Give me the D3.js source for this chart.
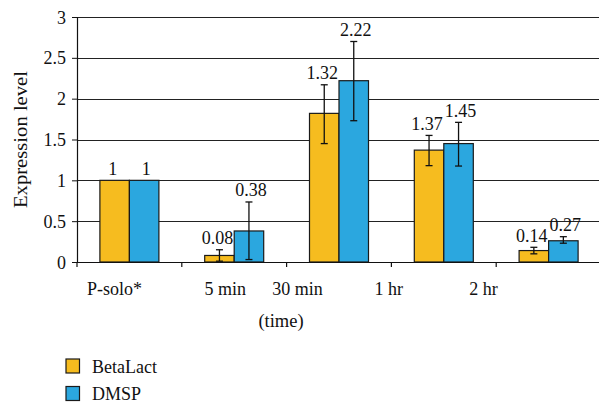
<!DOCTYPE html>
<html><head><meta charset="utf-8">
<script src="https://cdn.jsdelivr.net/npm/d3@7"></script>
<style>
html,body{margin:0;padding:0;background:#fff;}
svg text{font-family:"Liberation Serif","Times New Roman",serif;fill:#111;}
</style></head>
<body><svg id="c" width="599" height="404"></svg>
<script>
const categories = ["P-solo*", "5 min", "30 min", "1 hr", "2 hr"];
const seriesNames = ["BetaLact", "DMSP"];
const betaLact = [1, 0.08, 1.82, 1.37, 0.14];
const dmsp = [1, 0.38, 2.22, 1.45, 0.26];
const betaLactLabels = ["1", "0.08", "1.32", "1.37", "0.14"];
const dmspLabels = ["1", "0.38", "2.22", "1.45", "0.27"];
const betaLactErrLow = [null, 0.01, 1.45, 1.18, 0.10];
const betaLactErrHigh = [null, 0.15, 2.17, 1.55, 0.18];
const dmspErrLow = [null, 0.03, 1.73, 1.175, 0.23];
const dmspErrHigh = [null, 0.735, 2.70, 1.71, 0.31];
const yTicks = [0, 0.5, 1, 1.5, 2, 2.5, 3];

(function(){
const colors = ["#F6BC1F", "#2BA7DF"];
const svg = d3.select("#c");
const pL = 77, pR = 601, pT = 17, pB = 262;
const x = d3.scaleBand().domain(categories).range([pL, pR]).padding(0);
const y = d3.scaleLinear().domain([0, 3]).range([pB, pT]);
const groupW = 59;
const xs = d3.scaleBand().domain(seriesNames).range([-groupW/2, groupW/2]).padding(0);

const series = [
  {name: seriesNames[0], vals: betaLact, labels: betaLactLabels, lo: betaLactErrLow, hi: betaLactErrHigh, color: colors[0], ldx: -2},
  {name: seriesNames[1], vals: dmsp, labels: dmspLabels, lo: dmspErrLow, hi: dmspErrHigh, color: colors[1], ldx: 2}
];

// gridlines
svg.append("g").selectAll("line").data(yTicks.filter(d => d > 0)).join("line")
  .attr("x1", pL).attr("x2", 599).attr("y1", d => Math.round(y(d)) + 0.5).attr("y2", d => Math.round(y(d)) + 0.5)
  .attr("stroke", "#222").attr("stroke-width", 1);

// y axis
const yAxis = d3.axisLeft(y).tickValues(yTicks).tickSize(5).tickPadding(6).tickFormat(d3.format("~g"));
const ya = svg.append("g").attr("transform", `translate(${pL},0)`).call(yAxis);
ya.select(".domain").attr("stroke", "#111").attr("stroke-width", 1.2);
ya.selectAll(".tick line").attr("stroke", "#111");
ya.selectAll("text").attr("font-size", 18).attr("font-family", "Liberation Serif").attr("fill", "#111").attr("dy", "0.34em");

// bars
const cx = c => x(c) + x.bandwidth()/2;
series.forEach(s => {
  svg.append("g").selectAll("rect").data(categories).join("rect")
    .attr("x", (c) => cx(c) + xs(s.name))
    .attr("width", xs.bandwidth())
    .attr("y", (c, i) => y(s.vals[i]))
    .attr("height", (c, i) => y(0) - y(s.vals[i]))
    .attr("fill", s.color).attr("stroke", "#1a1a1a").attr("stroke-width", 1.2);
});

// error bars
series.forEach(s => {
  const g = svg.append("g");
  categories.forEach((c, i) => {
    if (s.lo[i] == null) return;
    const bx = cx(c) + xs(s.name) + xs.bandwidth()/2;
    g.append("line").attr("x1", bx).attr("x2", bx).attr("y1", y(s.hi[i])).attr("y2", y(s.lo[i])).attr("stroke", "#111").attr("stroke-width", 1.3);
    [s.hi[i], s.lo[i]].forEach(v => g.append("line").attr("x1", bx - 3.5).attr("x2", bx + 3.5).attr("y1", y(v)).attr("y2", y(v)).attr("stroke", "#111").attr("stroke-width", 1.3));
  });
});

// value labels
series.forEach(s => {
  svg.append("g").selectAll("text").data(categories).join("text")
    .attr("x", c => cx(c) + xs(s.name) + xs.bandwidth()/2 + s.ldx)
    .attr("y", (c, i) => y(Math.max(s.vals[i], s.hi[i] == null ? 0 : s.hi[i])) - 5.5)
    .attr("text-anchor", "middle").attr("font-size", 18)
    .text((c, i) => s.labels[i]);
});

// x axis
const xa = svg.append("g").attr("transform", `translate(0,${pB})`);
xa.append("line").attr("x1", pL).attr("x2", 599).attr("y1", 0.5).attr("y2", 0.5).attr("stroke", "#111").attr("stroke-width", 1.2);
const bounds = categories.map(c => x(c)).concat([pR]);
xa.selectAll("line.tk").data(bounds.filter(b => b < 599)).join("line").attr("class", "tk")
  .attr("x1", d => d).attr("x2", d => d).attr("y1", 0).attr("y2", 5).attr("stroke", "#111").attr("stroke-width", 1.2);
const labelShift = [-15, -9, -41.5, -55, -65];
xa.selectAll("text").data(categories).join("text")
  .attr("x", (c, i) => cx(c) + labelShift[i]).attr("y", 33)
  .attr("text-anchor", "middle").attr("font-size", 18).text(c => c);

// axis titles
svg.append("text").attr("x", 281).attr("y", 327).attr("text-anchor", "middle").attr("font-size", 18.5).text("(time)");
svg.append("text").attr("transform", `translate(27,${(pT+pB)/2}) rotate(-90)`).attr("text-anchor", "middle")
  .attr("font-size", 19).attr("textLength", 137).attr("lengthAdjust", "spacingAndGlyphs").text("Expression level");

// legend
const lg = svg.append("g");
series.forEach((s, i) => {
  const yy = 359 + i * 27.5;
  lg.append("rect").attr("x", 66).attr("y", yy).attr("width", 13.5).attr("height", 14).attr("fill", s.color).attr("stroke", "#1a1a1a").attr("stroke-width", 1.2);
  lg.append("text").attr("x", 92).attr("y", yy + 13.5).attr("font-size", 18).text(s.name);
});
})();
</script></body></html>
